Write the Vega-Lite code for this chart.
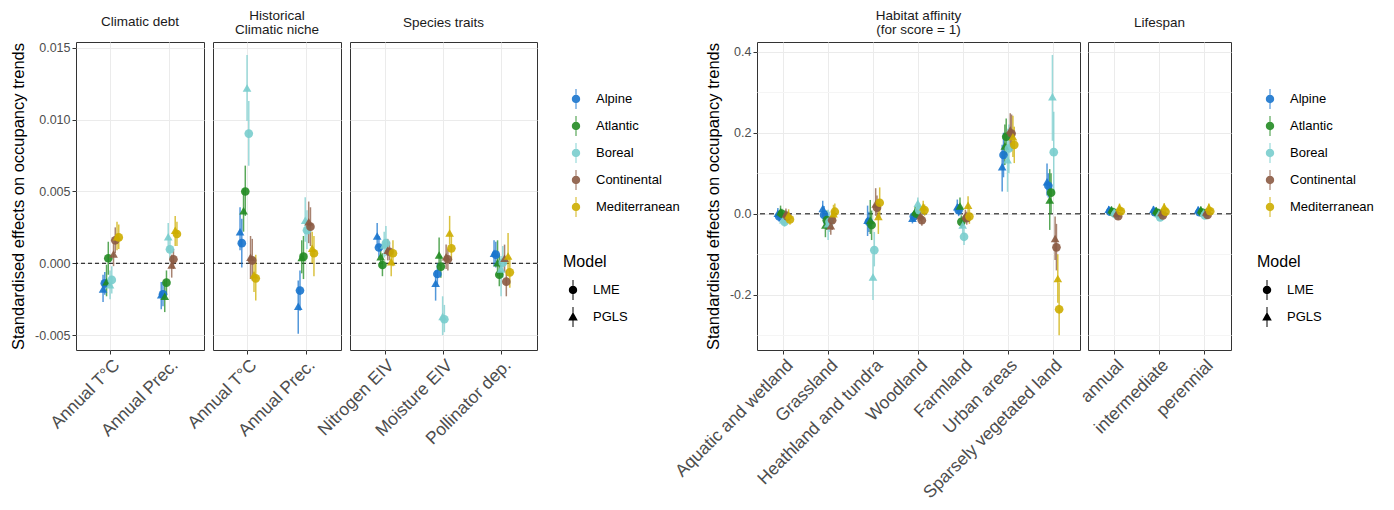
{
"$schema": "https://vega.github.io/schema/vega-lite/v6.json",
"background": "white",
"padding": {"left": 10, "top": 8, "right": 5, "bottom": 5},
"config": {
  "font": "Liberation Sans",
  "view": {"stroke": "#333333", "strokeWidth": 1},
  "title": {"fontSize": 13.5, "fontWeight": "normal", "color": "#1A1A1A", "anchor": "middle", "lineHeight": 14},
  "axis": {"domain": false}
},
"datasets": {"d": [
{"p":"cd","v":"Annual T°C","r":"Alpine","m":"LME","e":-0.0014,"lo":-0.0022,"hi":-0.0006},
{"p":"cd","v":"Annual T°C","r":"Alpine","m":"PGLS","e":-0.0018,"lo":-0.0027,"hi":-0.0008},
{"p":"cd","v":"Annual T°C","r":"Atlantic","m":"LME","e":0.00035,"lo":-0.0008,"hi":0.0015},
{"p":"cd","v":"Annual T°C","r":"Atlantic","m":"PGLS","e":-0.00128,"lo":-0.0023,"hi":-0.0001},
{"p":"cd","v":"Annual T°C","r":"Boreal","m":"LME","e":-0.00116,"lo":-0.0021,"hi":-0.0002},
{"p":"cd","v":"Annual T°C","r":"Boreal","m":"PGLS","e":-0.0015,"lo":-0.0025,"hi":-0.0005},
{"p":"cd","v":"Annual T°C","r":"Continental","m":"LME","e":0.0016,"lo":0.0007,"hi":0.0025},
{"p":"cd","v":"Annual T°C","r":"Continental","m":"PGLS","e":0.00065,"lo":-0.0002,"hi":0.0014},
{"p":"cd","v":"Annual T°C","r":"Mediterranean","m":"LME","e":0.0018,"lo":0.001,"hi":0.0027},
{"p":"cd","v":"Annual T°C","r":"Mediterranean","m":"PGLS","e":0.00185,"lo":0.0009,"hi":0.0029},
{"p":"cd","v":"Annual Prec.","r":"Alpine","m":"LME","e":-0.00216,"lo":-0.003,"hi":-0.0013},
{"p":"cd","v":"Annual Prec.","r":"Alpine","m":"PGLS","e":-0.0022,"lo":-0.0032,"hi":-0.0013},
{"p":"cd","v":"Annual Prec.","r":"Atlantic","m":"LME","e":-0.00135,"lo":-0.0022,"hi":-0.0005},
{"p":"cd","v":"Annual Prec.","r":"Atlantic","m":"PGLS","e":-0.0023,"lo":-0.0034,"hi":-0.0012},
{"p":"cd","v":"Annual Prec.","r":"Boreal","m":"LME","e":0.00097,"lo":0.0002,"hi":0.0017},
{"p":"cd","v":"Annual Prec.","r":"Boreal","m":"PGLS","e":0.00185,"lo":0.0008,"hi":0.0028},
{"p":"cd","v":"Annual Prec.","r":"Continental","m":"LME","e":0.00028,"lo":-0.0004,"hi":0.001},
{"p":"cd","v":"Annual Prec.","r":"Continental","m":"PGLS","e":-0.00012,"lo":-0.001,"hi":0.0006},
{"p":"cd","v":"Annual Prec.","r":"Mediterranean","m":"LME","e":0.00204,"lo":0.0012,"hi":0.0029},
{"p":"cd","v":"Annual Prec.","r":"Mediterranean","m":"PGLS","e":0.0023,"lo":0.0012,"hi":0.0033},
{"p":"hcn","v":"Annual T°C","r":"Alpine","m":"LME","e":0.0014,"lo":-0.0003,"hi":0.0031},
{"p":"hcn","v":"Annual T°C","r":"Alpine","m":"PGLS","e":0.0022,"lo":0.0009,"hi":0.0039},
{"p":"hcn","v":"Annual T°C","r":"Atlantic","m":"LME","e":0.005,"lo":0.0033,"hi":0.0068},
{"p":"hcn","v":"Annual T°C","r":"Atlantic","m":"PGLS","e":0.00366,"lo":0.0022,"hi":0.0052},
{"p":"hcn","v":"Annual T°C","r":"Boreal","m":"LME","e":0.00903,"lo":0.0068,"hi":0.0113},
{"p":"hcn","v":"Annual T°C","r":"Boreal","m":"PGLS","e":0.0122,"lo":0.0099,"hi":0.0145},
{"p":"hcn","v":"Annual T°C","r":"Continental","m":"LME","e":0.0002,"lo":-0.0012,"hi":0.0017},
{"p":"hcn","v":"Annual T°C","r":"Continental","m":"PGLS","e":0.00042,"lo":-0.0011,"hi":0.0019},
{"p":"hcn","v":"Annual T°C","r":"Mediterranean","m":"LME","e":-0.00105,"lo":-0.0026,"hi":0.0006},
{"p":"hcn","v":"Annual T°C","r":"Mediterranean","m":"PGLS","e":-0.0008,"lo":-0.002,"hi":0.0004},
{"p":"hcn","v":"Annual Prec.","r":"Alpine","m":"LME","e":-0.0019,"lo":-0.0033,"hi":-0.0005},
{"p":"hcn","v":"Annual Prec.","r":"Alpine","m":"PGLS","e":-0.003,"lo":-0.0049,"hi":-0.0012},
{"p":"hcn","v":"Annual Prec.","r":"Atlantic","m":"LME","e":0.00046,"lo":-0.0011,"hi":0.0019},
{"p":"hcn","v":"Annual Prec.","r":"Atlantic","m":"PGLS","e":0.0004,"lo":-0.0007,"hi":0.0016},
{"p":"hcn","v":"Annual Prec.","r":"Boreal","m":"LME","e":0.0023,"lo":0.001,"hi":0.0037},
{"p":"hcn","v":"Annual Prec.","r":"Boreal","m":"PGLS","e":0.003,"lo":0.0015,"hi":0.0046},
{"p":"hcn","v":"Annual Prec.","r":"Continental","m":"LME","e":0.00255,"lo":0.0012,"hi":0.0039},
{"p":"hcn","v":"Annual Prec.","r":"Continental","m":"PGLS","e":0.0029,"lo":0.0014,"hi":0.0043},
{"p":"hcn","v":"Annual Prec.","r":"Mediterranean","m":"LME","e":0.0007,"lo":-0.0009,"hi":0.0019},
{"p":"hcn","v":"Annual Prec.","r":"Mediterranean","m":"PGLS","e":0.00104,"lo":0.0,"hi":0.0022},
{"p":"st","v":"Nitrogen EIV","r":"Alpine","m":"LME","e":0.0011,"lo":0.0004,"hi":0.0019},
{"p":"st","v":"Nitrogen EIV","r":"Alpine","m":"PGLS","e":0.0019,"lo":0.0011,"hi":0.0028},
{"p":"st","v":"Nitrogen EIV","r":"Atlantic","m":"LME","e":-0.00012,"lo":-0.0009,"hi":0.0007},
{"p":"st","v":"Nitrogen EIV","r":"Atlantic","m":"PGLS","e":0.00046,"lo":-0.0003,"hi":0.0012},
{"p":"st","v":"Nitrogen EIV","r":"Boreal","m":"LME","e":0.0014,"lo":0.0005,"hi":0.0026},
{"p":"st","v":"Nitrogen EIV","r":"Boreal","m":"PGLS","e":0.00127,"lo":0.0004,"hi":0.0022},
{"p":"st","v":"Nitrogen EIV","r":"Continental","m":"LME","e":0.0008,"lo":0.0002,"hi":0.0015},
{"p":"st","v":"Nitrogen EIV","r":"Continental","m":"PGLS","e":0.0009,"lo":0.0002,"hi":0.0017},
{"p":"st","v":"Nitrogen EIV","r":"Mediterranean","m":"LME","e":0.0007,"lo":-0.0002,"hi":0.0016},
{"p":"st","v":"Nitrogen EIV","r":"Mediterranean","m":"PGLS","e":0.0001,"lo":-0.0009,"hi":0.001},
{"p":"st","v":"Moisture EIV","r":"Alpine","m":"LME","e":-0.00075,"lo":-0.0015,"hi":0.0},
{"p":"st","v":"Moisture EIV","r":"Alpine","m":"PGLS","e":-0.0014,"lo":-0.0026,"hi":-0.0005},
{"p":"st","v":"Moisture EIV","r":"Atlantic","m":"LME","e":-0.00023,"lo":-0.001,"hi":0.0005},
{"p":"st","v":"Moisture EIV","r":"Atlantic","m":"PGLS","e":0.00058,"lo":-0.0002,"hi":0.0018},
{"p":"st","v":"Moisture EIV","r":"Boreal","m":"LME","e":-0.0039,"lo":-0.0048,"hi":-0.0029},
{"p":"st","v":"Moisture EIV","r":"Boreal","m":"PGLS","e":-0.0037,"lo":-0.005,"hi":-0.0023},
{"p":"st","v":"Moisture EIV","r":"Continental","m":"LME","e":0.00028,"lo":-0.0005,"hi":0.001},
{"p":"st","v":"Moisture EIV","r":"Continental","m":"PGLS","e":0.00046,"lo":-0.0004,"hi":0.0013},
{"p":"st","v":"Moisture EIV","r":"Mediterranean","m":"LME","e":0.00104,"lo":0.0002,"hi":0.0019},
{"p":"st","v":"Moisture EIV","r":"Mediterranean","m":"PGLS","e":0.0021,"lo":0.0013,"hi":0.0033},
{"p":"st","v":"Pollinator dep.","r":"Alpine","m":"LME","e":0.0006,"lo":-0.0003,"hi":0.0015},
{"p":"st","v":"Pollinator dep.","r":"Alpine","m":"PGLS","e":0.0007,"lo":-0.0002,"hi":0.0016},
{"p":"st","v":"Pollinator dep.","r":"Atlantic","m":"LME","e":-0.0008,"lo":-0.0016,"hi":0.0006},
{"p":"st","v":"Pollinator dep.","r":"Atlantic","m":"PGLS","e":0.00004,"lo":-0.0009,"hi":0.0016},
{"p":"st","v":"Pollinator dep.","r":"Boreal","m":"LME","e":0.00004,"lo":-0.001,"hi":0.0012},
{"p":"st","v":"Pollinator dep.","r":"Boreal","m":"PGLS","e":-0.0004,"lo":-0.0023,"hi":0.0005},
{"p":"st","v":"Pollinator dep.","r":"Continental","m":"LME","e":-0.00128,"lo":-0.0023,"hi":-0.0005},
{"p":"st","v":"Pollinator dep.","r":"Continental","m":"PGLS","e":0.00035,"lo":-0.0006,"hi":0.0013},
{"p":"st","v":"Pollinator dep.","r":"Mediterranean","m":"LME","e":-0.00063,"lo":-0.0017,"hi":0.0004},
{"p":"st","v":"Pollinator dep.","r":"Mediterranean","m":"PGLS","e":0.0005,"lo":-0.0005,"hi":0.0021},
{"p":"ha","v":"Aquatic and wetland","r":"Alpine","m":"LME","e":-0.007,"lo":-0.02,"hi":0.006},
{"p":"ha","v":"Aquatic and wetland","r":"Alpine","m":"PGLS","e":0.001,"lo":-0.012,"hi":0.014},
{"p":"ha","v":"Aquatic and wetland","r":"Atlantic","m":"LME","e":0.0,"lo":-0.012,"hi":0.012},
{"p":"ha","v":"Aquatic and wetland","r":"Atlantic","m":"PGLS","e":0.005,"lo":-0.008,"hi":0.02},
{"p":"ha","v":"Aquatic and wetland","r":"Boreal","m":"LME","e":-0.02,"lo":-0.032,"hi":-0.008},
{"p":"ha","v":"Aquatic and wetland","r":"Boreal","m":"PGLS","e":-0.015,"lo":-0.028,"hi":-0.002},
{"p":"ha","v":"Aquatic and wetland","r":"Continental","m":"LME","e":-0.007,"lo":-0.02,"hi":0.006},
{"p":"ha","v":"Aquatic and wetland","r":"Continental","m":"PGLS","e":0.0,"lo":-0.013,"hi":0.013},
{"p":"ha","v":"Aquatic and wetland","r":"Mediterranean","m":"LME","e":-0.014,"lo":-0.027,"hi":-0.001},
{"p":"ha","v":"Aquatic and wetland","r":"Mediterranean","m":"PGLS","e":-0.003,"lo":-0.017,"hi":0.011},
{"p":"ha","v":"Grassland","r":"Alpine","m":"LME","e":-0.003,"lo":-0.025,"hi":0.019},
{"p":"ha","v":"Grassland","r":"Alpine","m":"PGLS","e":0.013,"lo":-0.008,"hi":0.032},
{"p":"ha","v":"Grassland","r":"Atlantic","m":"LME","e":-0.016,"lo":-0.04,"hi":0.008},
{"p":"ha","v":"Grassland","r":"Atlantic","m":"PGLS","e":-0.028,"lo":-0.058,"hi":0.0},
{"p":"ha","v":"Grassland","r":"Boreal","m":"LME","e":-0.02,"lo":-0.045,"hi":0.005},
{"p":"ha","v":"Grassland","r":"Boreal","m":"PGLS","e":-0.025,"lo":-0.065,"hi":0.01},
{"p":"ha","v":"Grassland","r":"Continental","m":"LME","e":-0.016,"lo":-0.04,"hi":0.008},
{"p":"ha","v":"Grassland","r":"Continental","m":"PGLS","e":-0.03,"lo":-0.052,"hi":-0.008},
{"p":"ha","v":"Grassland","r":"Mediterranean","m":"LME","e":0.005,"lo":-0.015,"hi":0.025},
{"p":"ha","v":"Grassland","r":"Mediterranean","m":"PGLS","e":0.0,"lo":-0.022,"hi":0.022},
{"p":"ha","v":"Heathland and tundra","r":"Alpine","m":"LME","e":-0.02,"lo":-0.045,"hi":0.005},
{"p":"ha","v":"Heathland and tundra","r":"Alpine","m":"PGLS","e":-0.016,"lo":-0.055,"hi":0.02},
{"p":"ha","v":"Heathland and tundra","r":"Atlantic","m":"LME","e":-0.028,"lo":-0.065,"hi":0.008},
{"p":"ha","v":"Heathland and tundra","r":"Atlantic","m":"PGLS","e":-0.016,"lo":-0.05,"hi":0.034},
{"p":"ha","v":"Heathland and tundra","r":"Boreal","m":"LME","e":-0.09,"lo":-0.13,"hi":-0.045},
{"p":"ha","v":"Heathland and tundra","r":"Boreal","m":"PGLS","e":-0.156,"lo":-0.213,"hi":-0.1},
{"p":"ha","v":"Heathland and tundra","r":"Continental","m":"LME","e":0.015,"lo":-0.01,"hi":0.045},
{"p":"ha","v":"Heathland and tundra","r":"Continental","m":"PGLS","e":0.024,"lo":-0.005,"hi":0.063},
{"p":"ha","v":"Heathland and tundra","r":"Mediterranean","m":"LME","e":0.027,"lo":-0.01,"hi":0.065},
{"p":"ha","v":"Heathland and tundra","r":"Mediterranean","m":"PGLS","e":-0.007,"lo":-0.05,"hi":0.035},
{"p":"ha","v":"Woodland","r":"Alpine","m":"LME","e":-0.007,"lo":-0.02,"hi":0.006},
{"p":"ha","v":"Woodland","r":"Alpine","m":"PGLS","e":-0.011,"lo":-0.024,"hi":0.002},
{"p":"ha","v":"Woodland","r":"Atlantic","m":"LME","e":0.0,"lo":-0.013,"hi":0.013},
{"p":"ha","v":"Woodland","r":"Atlantic","m":"PGLS","e":0.005,"lo":-0.008,"hi":0.018},
{"p":"ha","v":"Woodland","r":"Boreal","m":"LME","e":0.009,"lo":-0.005,"hi":0.023},
{"p":"ha","v":"Woodland","r":"Boreal","m":"PGLS","e":0.026,"lo":0.01,"hi":0.04},
{"p":"ha","v":"Woodland","r":"Continental","m":"LME","e":-0.016,"lo":-0.03,"hi":-0.003},
{"p":"ha","v":"Woodland","r":"Continental","m":"PGLS","e":-0.005,"lo":-0.018,"hi":0.008},
{"p":"ha","v":"Woodland","r":"Mediterranean","m":"LME","e":0.009,"lo":-0.005,"hi":0.023},
{"p":"ha","v":"Woodland","r":"Mediterranean","m":"PGLS","e":0.017,"lo":0.002,"hi":0.032},
{"p":"ha","v":"Farmland","r":"Alpine","m":"LME","e":0.009,"lo":-0.006,"hi":0.024},
{"p":"ha","v":"Farmland","r":"Alpine","m":"PGLS","e":0.017,"lo":0.0,"hi":0.035},
{"p":"ha","v":"Farmland","r":"Atlantic","m":"LME","e":-0.02,"lo":-0.035,"hi":-0.004},
{"p":"ha","v":"Farmland","r":"Atlantic","m":"PGLS","e":0.019,"lo":0.0,"hi":0.04},
{"p":"ha","v":"Farmland","r":"Boreal","m":"LME","e":-0.057,"lo":-0.077,"hi":-0.037},
{"p":"ha","v":"Farmland","r":"Boreal","m":"PGLS","e":-0.028,"lo":-0.05,"hi":-0.006},
{"p":"ha","v":"Farmland","r":"Continental","m":"LME","e":-0.011,"lo":-0.027,"hi":0.005},
{"p":"ha","v":"Farmland","r":"Continental","m":"PGLS","e":-0.005,"lo":-0.02,"hi":0.01},
{"p":"ha","v":"Farmland","r":"Mediterranean","m":"LME","e":-0.007,"lo":-0.025,"hi":0.012},
{"p":"ha","v":"Farmland","r":"Mediterranean","m":"PGLS","e":0.021,"lo":0.0,"hi":0.043},
{"p":"ha","v":"Urban areas","r":"Alpine","m":"LME","e":0.145,"lo":0.09,"hi":0.2},
{"p":"ha","v":"Urban areas","r":"Alpine","m":"PGLS","e":0.116,"lo":0.055,"hi":0.17},
{"p":"ha","v":"Urban areas","r":"Atlantic","m":"LME","e":0.19,"lo":0.145,"hi":0.235},
{"p":"ha","v":"Urban areas","r":"Atlantic","m":"PGLS","e":0.167,"lo":0.12,"hi":0.22},
{"p":"ha","v":"Urban areas","r":"Boreal","m":"LME","e":0.161,"lo":0.1,"hi":0.22},
{"p":"ha","v":"Urban areas","r":"Boreal","m":"PGLS","e":0.133,"lo":0.054,"hi":0.21},
{"p":"ha","v":"Urban areas","r":"Continental","m":"LME","e":0.198,"lo":0.155,"hi":0.245},
{"p":"ha","v":"Urban areas","r":"Continental","m":"PGLS","e":0.207,"lo":0.165,"hi":0.248},
{"p":"ha","v":"Urban areas","r":"Mediterranean","m":"LME","e":0.17,"lo":0.125,"hi":0.215},
{"p":"ha","v":"Urban areas","r":"Mediterranean","m":"PGLS","e":0.19,"lo":0.14,"hi":0.242},
{"p":"ha","v":"Sparsely vegetated land","r":"Alpine","m":"LME","e":0.069,"lo":0.04,"hi":0.1},
{"p":"ha","v":"Sparsely vegetated land","r":"Alpine","m":"PGLS","e":0.079,"lo":0.045,"hi":0.124},
{"p":"ha","v":"Sparsely vegetated land","r":"Atlantic","m":"LME","e":0.052,"lo":0.0,"hi":0.1},
{"p":"ha","v":"Sparsely vegetated land","r":"Atlantic","m":"PGLS","e":0.034,"lo":-0.04,"hi":0.11},
{"p":"ha","v":"Sparsely vegetated land","r":"Boreal","m":"LME","e":0.152,"lo":0.05,"hi":0.252},
{"p":"ha","v":"Sparsely vegetated land","r":"Boreal","m":"PGLS","e":0.289,"lo":0.18,"hi":0.392},
{"p":"ha","v":"Sparsely vegetated land","r":"Continental","m":"LME","e":-0.083,"lo":-0.14,"hi":-0.025},
{"p":"ha","v":"Sparsely vegetated land","r":"Continental","m":"PGLS","e":-0.061,"lo":-0.114,"hi":-0.007},
{"p":"ha","v":"Sparsely vegetated land","r":"Mediterranean","m":"LME","e":-0.236,"lo":-0.3,"hi":-0.17},
{"p":"ha","v":"Sparsely vegetated land","r":"Mediterranean","m":"PGLS","e":-0.16,"lo":-0.22,"hi":-0.1},
{"p":"ls","v":"annual","r":"Alpine","m":"LME","e":0.005,"lo":-0.003,"hi":0.013},
{"p":"ls","v":"annual","r":"Alpine","m":"PGLS","e":0.011,"lo":0.003,"hi":0.019},
{"p":"ls","v":"annual","r":"Atlantic","m":"LME","e":0.004,"lo":-0.004,"hi":0.012},
{"p":"ls","v":"annual","r":"Atlantic","m":"PGLS","e":0.01,"lo":0.002,"hi":0.018},
{"p":"ls","v":"annual","r":"Boreal","m":"LME","e":-0.001,"lo":-0.009,"hi":0.007},
{"p":"ls","v":"annual","r":"Boreal","m":"PGLS","e":0.004,"lo":-0.004,"hi":0.012},
{"p":"ls","v":"annual","r":"Continental","m":"LME","e":-0.006,"lo":-0.014,"hi":0.002},
{"p":"ls","v":"annual","r":"Continental","m":"PGLS","e":0.002,"lo":-0.006,"hi":0.01},
{"p":"ls","v":"annual","r":"Mediterranean","m":"LME","e":0.006,"lo":-0.002,"hi":0.014},
{"p":"ls","v":"annual","r":"Mediterranean","m":"PGLS","e":0.016,"lo":0.007,"hi":0.025},
{"p":"ls","v":"intermediate","r":"Alpine","m":"LME","e":0.004,"lo":-0.004,"hi":0.012},
{"p":"ls","v":"intermediate","r":"Alpine","m":"PGLS","e":0.011,"lo":0.003,"hi":0.019},
{"p":"ls","v":"intermediate","r":"Atlantic","m":"LME","e":0.002,"lo":-0.006,"hi":0.01},
{"p":"ls","v":"intermediate","r":"Atlantic","m":"PGLS","e":0.008,"lo":0.0,"hi":0.016},
{"p":"ls","v":"intermediate","r":"Boreal","m":"LME","e":-0.009,"lo":-0.017,"hi":-0.001},
{"p":"ls","v":"intermediate","r":"Boreal","m":"PGLS","e":0.0,"lo":-0.008,"hi":0.008},
{"p":"ls","v":"intermediate","r":"Continental","m":"LME","e":-0.004,"lo":-0.012,"hi":0.004},
{"p":"ls","v":"intermediate","r":"Continental","m":"PGLS","e":0.003,"lo":-0.005,"hi":0.011},
{"p":"ls","v":"intermediate","r":"Mediterranean","m":"LME","e":0.005,"lo":-0.003,"hi":0.013},
{"p":"ls","v":"intermediate","r":"Mediterranean","m":"PGLS","e":0.017,"lo":0.008,"hi":0.026},
{"p":"ls","v":"perennial","r":"Alpine","m":"LME","e":0.004,"lo":-0.004,"hi":0.012},
{"p":"ls","v":"perennial","r":"Alpine","m":"PGLS","e":0.01,"lo":0.002,"hi":0.018},
{"p":"ls","v":"perennial","r":"Atlantic","m":"LME","e":0.003,"lo":-0.005,"hi":0.011},
{"p":"ls","v":"perennial","r":"Atlantic","m":"PGLS","e":0.01,"lo":0.002,"hi":0.018},
{"p":"ls","v":"perennial","r":"Boreal","m":"LME","e":-0.004,"lo":-0.012,"hi":0.004},
{"p":"ls","v":"perennial","r":"Boreal","m":"PGLS","e":0.002,"lo":-0.006,"hi":0.01},
{"p":"ls","v":"perennial","r":"Continental","m":"LME","e":-0.003,"lo":-0.011,"hi":0.005},
{"p":"ls","v":"perennial","r":"Continental","m":"PGLS","e":0.004,"lo":-0.004,"hi":0.012},
{"p":"ls","v":"perennial","r":"Mediterranean","m":"LME","e":0.006,"lo":-0.002,"hi":0.014},
{"p":"ls","v":"perennial","r":"Mediterranean","m":"PGLS","e":0.016,"lo":0.007,"hi":0.025}
]},
"spacing": -10,
"hconcat": [
{
 "spacing": 9,
 "bounds": "flush",
 "resolve": {"scale": {"color": "independent", "shape": "independent", "stroke": "independent", "xOffset": "independent"}, "legend": {"color": "independent", "shape": "independent", "stroke": "independent"}},
 "hconcat": [
  {
   "width": 128, "height": 308,
   "title": {"text": "Climatic debt", "offset": 13},
   "layer": [
    {"data": {"values": [{}]}, "mark": {"type": "rule", "color": "black", "strokeDash": [4, 3], "strokeWidth": 1}, "encoding": {"y": {"datum": 0, "type": "quantitative"}}},
    {"data": {"name": "d"}, "transform": [{"filter": "datum.p === 'cd'"}, {"calculate": "datum.r + '|' + datum.m", "as": "g"}],
     "mark": {"type": "rule", "strokeWidth": 1.5, "opacity": 0.75},
     "encoding": {
      "x": {"field": "v", "type": "nominal", "scale": {"domain": ["Annual T°C", "Annual Prec."], "paddingInner": 0.7, "paddingOuter": 0.45}},
      "xOffset": {"field": "g", "type": "nominal", "scale": {"domain": ["Alpine|PGLS","Alpine|LME","Atlantic|PGLS","Atlantic|LME","Boreal|PGLS","Boreal|LME","Continental|PGLS","Continental|LME","Mediterranean|PGLS","Mediterranean|LME"], "paddingInner": 0, "paddingOuter": 0}},
      "y": {"field": "lo", "type": "quantitative", "scale": {"domain": [-0.00604, 0.01541], "nice": false, "zero": false}},
      "y2": {"field": "hi"},
      "stroke": {"field": "r", "type": "nominal", "scale": {"range": ["#1874CD","#228B22","#79CDCD","#8B5A42","#CDAD00"]}, "legend": null}
     }},
    {"data": {"name": "d"}, "transform": [{"filter": "datum.p === 'cd'"}, {"calculate": "datum.r + '|' + datum.m", "as": "g"}],
     "mark": {"type": "point", "filled": true, "size": 75, "opacity": 0.9},
     "encoding": {
      "x": {"field": "v", "type": "nominal", "scale": {"domain": ["Annual T°C", "Annual Prec."], "paddingInner": 0.7, "paddingOuter": 0.45},
            "axis": {"title": null, "labelAngle": -45, "labelAlign": "right", "labelBaseline": "top", "labelFontSize": 17.5, "labelColor": "#4D4D4D", "labelPadding": 2, "labelLimit": 300, "tickColor": "#333333", "tickSize": 4, "grid": true, "gridColor": "#EBEBEB", "domain": false, "bandPosition": 0.5}},
      "xOffset": {"field": "g", "type": "nominal", "scale": {"domain": ["Alpine|PGLS","Alpine|LME","Atlantic|PGLS","Atlantic|LME","Boreal|PGLS","Boreal|LME","Continental|PGLS","Continental|LME","Mediterranean|PGLS","Mediterranean|LME"], "paddingInner": 0, "paddingOuter": 0}},
      "y": {"field": "e", "type": "quantitative", "scale": {"domain": [-0.00604, 0.01541], "nice": false, "zero": false},
            "axis": {"title": "Standardised effects on occupancy trends", "titleFontSize": 16.5, "titleColor": "black", "titleFontWeight": "normal", "titlePadding": 8,
                     "values": [-0.005, -0.0025, 0, 0.0025, 0.005, 0.0075, 0.01, 0.0125, 0.015],
                     "labelExpr": "abs(datum.value*200 - round(datum.value*200)) < 0.01 ? replace(format(datum.value, '.3f'), '\u2212', '-') : ''",
                     "labelFontSize": 12.5, "labelColor": "#4D4D4D", "labelPadding": 2, "tickColor": "#333333", "tickSize": 4,
                     "tickOpacity": {"condition": {"test": "abs(datum.value*200 - round(datum.value*200)) < 0.01", "value": 1}, "value": 0},
                     "grid": true, "gridColor": {"condition": {"test": "abs(datum.value*200 - round(datum.value*200)) < 0.01", "value": "#EBEBEB"}, "value": "#F5F5F5"}, "domain": false}},
      "color": {"field": "r", "type": "nominal", "scale": {"domain": ["Alpine","Atlantic","Boreal","Continental","Mediterranean"], "range": ["#1874CD","#228B22","#79CDCD","#8B5A42","#CDAD00"]}, "legend": null},
      "shape": {"field": "m", "type": "nominal", "scale": {"domain": ["LME","PGLS"], "range": ["circle","triangle-up"]}, "legend": null}
     }}
   ]
  },
  {
   "width": 128, "height": 308,
   "title": {"text": ["Historical", "Climatic niche"], "offset": 6},
   "layer": [
    {"data": {"values": [{}]}, "mark": {"type": "rule", "color": "black", "strokeDash": [4, 3], "strokeWidth": 1}, "encoding": {"y": {"datum": 0, "type": "quantitative"}}},
    {"data": {"name": "d"}, "transform": [{"filter": "datum.p === 'hcn'"}, {"calculate": "datum.r + '|' + datum.m", "as": "g"}],
     "mark": {"type": "rule", "strokeWidth": 1.5, "opacity": 0.75},
     "encoding": {
      "x": {"field": "v", "type": "nominal", "scale": {"domain": ["Annual T°C", "Annual Prec."], "paddingInner": 0.7, "paddingOuter": 0.45}},
      "xOffset": {"field": "g", "type": "nominal", "scale": {"domain": ["Alpine|PGLS","Alpine|LME","Atlantic|PGLS","Atlantic|LME","Boreal|PGLS","Boreal|LME","Continental|PGLS","Continental|LME","Mediterranean|PGLS","Mediterranean|LME"], "paddingInner": 0, "paddingOuter": 0}},
      "y": {"field": "lo", "type": "quantitative", "scale": {"domain": [-0.00604, 0.01541], "nice": false, "zero": false}},
      "y2": {"field": "hi"},
      "stroke": {"field": "r", "type": "nominal", "scale": {"range": ["#1874CD","#228B22","#79CDCD","#8B5A42","#CDAD00"]}, "legend": null}
     }},
    {"data": {"name": "d"}, "transform": [{"filter": "datum.p === 'hcn'"}, {"calculate": "datum.r + '|' + datum.m", "as": "g"}],
     "mark": {"type": "point", "filled": true, "size": 75, "opacity": 0.9},
     "encoding": {
      "x": {"field": "v", "type": "nominal", "scale": {"domain": ["Annual T°C", "Annual Prec."], "paddingInner": 0.7, "paddingOuter": 0.45},
            "axis": {"title": null, "labelAngle": -45, "labelAlign": "right", "labelBaseline": "top", "labelFontSize": 17.5, "labelColor": "#4D4D4D", "labelPadding": 2, "labelLimit": 300, "tickColor": "#333333", "tickSize": 4, "grid": true, "gridColor": "#EBEBEB", "domain": false, "bandPosition": 0.5}},
      "xOffset": {"field": "g", "type": "nominal", "scale": {"domain": ["Alpine|PGLS","Alpine|LME","Atlantic|PGLS","Atlantic|LME","Boreal|PGLS","Boreal|LME","Continental|PGLS","Continental|LME","Mediterranean|PGLS","Mediterranean|LME"], "paddingInner": 0, "paddingOuter": 0}},
      "y": {"field": "e", "type": "quantitative", "scale": {"domain": [-0.00604, 0.01541], "nice": false, "zero": false},
            "axis": {"title": null, "labels": false, "ticks": false, "values": [-0.005, -0.0025, 0, 0.0025, 0.005, 0.0075, 0.01, 0.0125, 0.015],
                     "grid": true, "gridColor": {"condition": {"test": "abs(datum.value*200 - round(datum.value*200)) < 0.01", "value": "#EBEBEB"}, "value": "#F5F5F5"}, "domain": false}},
      "color": {"field": "r", "type": "nominal", "scale": {"domain": ["Alpine","Atlantic","Boreal","Continental","Mediterranean"], "range": ["#1874CD","#228B22","#79CDCD","#8B5A42","#CDAD00"]}, "legend": null},
      "shape": {"field": "m", "type": "nominal", "scale": {"domain": ["LME","PGLS"], "range": ["circle","triangle-up"]}, "legend": null}
     }}
   ]
  },
  {
   "width": 187, "height": 308,
   "title": {"text": "Species traits", "offset": 13},
   "resolve": {"scale": {"shape": "independent"}},
   "layer": [
    {"data": {"values": [{}]}, "mark": {"type": "rule", "color": "black", "strokeDash": [4, 3], "strokeWidth": 1}, "encoding": {"y": {"datum": 0, "type": "quantitative"}}},
    {"data": {"name": "d"}, "transform": [{"filter": "datum.p === 'st'"}, {"calculate": "datum.r + '|' + datum.m", "as": "g"}],
     "mark": {"type": "rule", "strokeWidth": 1.5, "opacity": 0.75},
     "encoding": {
      "x": {"field": "v", "type": "nominal", "scale": {"domain": ["Nitrogen EIV", "Moisture EIV", "Pollinator dep."], "paddingInner": 0.7, "paddingOuter": 0.45}},
      "xOffset": {"field": "g", "type": "nominal", "scale": {"domain": ["Alpine|PGLS","Alpine|LME","Atlantic|PGLS","Atlantic|LME","Boreal|PGLS","Boreal|LME","Continental|PGLS","Continental|LME","Mediterranean|PGLS","Mediterranean|LME"], "paddingInner": 0, "paddingOuter": 0}},
      "y": {"field": "lo", "type": "quantitative", "scale": {"domain": [-0.00604, 0.01541], "nice": false, "zero": false}},
      "y2": {"field": "hi"},
      "stroke": {"field": "r", "type": "nominal", "scale": {"range": ["#1874CD","#228B22","#79CDCD","#8B5A42","#CDAD00"]}, "legend": null}
     }},
    {"data": {"name": "d"}, "transform": [{"filter": "datum.p === 'st'"}, {"calculate": "datum.r + '|' + datum.m", "as": "g"}],
     "mark": {"type": "point", "filled": true, "size": 75, "opacity": 0.9},
     "encoding": {
      "x": {"field": "v", "type": "nominal", "scale": {"domain": ["Nitrogen EIV", "Moisture EIV", "Pollinator dep."], "paddingInner": 0.7, "paddingOuter": 0.45},
            "axis": {"title": null, "labelAngle": -45, "labelAlign": "right", "labelBaseline": "top", "labelFontSize": 17.5, "labelColor": "#4D4D4D", "labelPadding": 2, "labelLimit": 300, "tickColor": "#333333", "tickSize": 4, "grid": true, "gridColor": "#EBEBEB", "domain": false, "bandPosition": 0.5}},
      "xOffset": {"field": "g", "type": "nominal", "scale": {"domain": ["Alpine|PGLS","Alpine|LME","Atlantic|PGLS","Atlantic|LME","Boreal|PGLS","Boreal|LME","Continental|PGLS","Continental|LME","Mediterranean|PGLS","Mediterranean|LME"], "paddingInner": 0, "paddingOuter": 0}},
      "y": {"field": "e", "type": "quantitative", "scale": {"domain": [-0.00604, 0.01541], "nice": false, "zero": false},
            "axis": {"title": null, "labels": false, "ticks": false, "values": [-0.005, -0.0025, 0, 0.0025, 0.005, 0.0075, 0.01, 0.0125, 0.015],
                     "grid": true, "gridColor": {"condition": {"test": "abs(datum.value*200 - round(datum.value*200)) < 0.01", "value": "#EBEBEB"}, "value": "#F5F5F5"}, "domain": false}},
      "color": {"field": "r", "type": "nominal", "scale": {"domain": ["Alpine","Atlantic","Boreal","Continental","Mediterranean"], "range": ["#1874CD","#228B22","#79CDCD","#8B5A42","#CDAD00"]},
                "legend": {"title": null, "orient": "none", "legendX": 216, "legendY": 47, "symbolType": "M-0.05,-1H0.05V1H-0.05Z M0.42,0A0.42,0.42 0 1,1 -0.42,0A0.42,0.42 0 1,1 0.42,0Z", "symbolSize": 400, "symbolStrokeWidth": 0, "labelFontSize": 13, "labelColor": "black", "labelOffset": 10, "rowPadding": 7}},
      "shape": {"field": "m", "type": "nominal", "scale": {"domain": ["LME","PGLS"], "range": ["circle","triangle-up"]}, "legend": null}
     }},
    {"data": {"name": "d"}, "transform": [{"filter": "false"}],
     "mark": {"type": "point", "filled": true, "color": "black", "opacity": 1},
     "encoding": {
      "shape": {"field": "m", "type": "nominal", "scale": {"domain": ["LME","PGLS"], "range": ["M-0.05,-1H0.05V1H-0.05Z M0.42,0A0.42,0.42 0 1,1 -0.42,0A0.42,0.42 0 1,1 0.42,0Z", "M-0.05,-1H0.05V1H-0.05Z M0,-0.5L0.48,0.35L-0.48,0.35Z"]},
                "legend": {"title": "Model", "orient": "none", "legendX": 213, "legendY": 212, "titleFontSize": 16, "titleFontWeight": "normal", "titleColor": "black", "titlePadding": 10, "symbolSize": 400, "symbolStrokeWidth": 0, "symbolFillColor": "black", "labelFontSize": 13, "labelColor": "black", "labelOffset": 10, "rowPadding": 7}}
     }}
   ]
  }
 ]
},
{
 "spacing": 8,
 "bounds": "flush",
 "resolve": {"scale": {"color": "independent", "shape": "independent", "stroke": "independent", "xOffset": "independent"}, "legend": {"color": "independent", "shape": "independent", "stroke": "independent"}},
 "hconcat": [
  {
   "width": 323, "height": 308,
   "title": {"text": ["Habitat affinity", "(for score = 1)"], "offset": 6},
   "layer": [
    {"data": {"values": [{}]}, "mark": {"type": "rule", "color": "#555555", "strokeDash": [5, 4], "strokeWidth": 1.5}, "encoding": {"y": {"datum": 0, "type": "quantitative"}}},
    {"data": {"name": "d"}, "transform": [{"filter": "datum.p === 'ha'"}, {"calculate": "datum.r + '|' + datum.m", "as": "g"}],
     "mark": {"type": "rule", "strokeWidth": 1.5, "opacity": 0.75},
     "encoding": {
      "x": {"field": "v", "type": "nominal", "scale": {"domain": ["Aquatic and wetland","Grassland","Heathland and tundra","Woodland","Farmland","Urban areas","Sparsely vegetated land"], "paddingInner": 0.7, "paddingOuter": 0.45}},
      "xOffset": {"field": "g", "type": "nominal", "scale": {"domain": ["Alpine|PGLS","Alpine|LME","Atlantic|PGLS","Atlantic|LME","Boreal|PGLS","Boreal|LME","Continental|PGLS","Continental|LME","Mediterranean|PGLS","Mediterranean|LME"], "paddingInner": 0, "paddingOuter": 0}},
      "y": {"field": "lo", "type": "quantitative", "scale": {"domain": [-0.3365, 0.424], "nice": false, "zero": false}},
      "y2": {"field": "hi"},
      "stroke": {"field": "r", "type": "nominal", "scale": {"range": ["#1874CD","#228B22","#79CDCD","#8B5A42","#CDAD00"]}, "legend": null}
     }},
    {"data": {"name": "d"}, "transform": [{"filter": "datum.p === 'ha'"}, {"calculate": "datum.r + '|' + datum.m", "as": "g"}],
     "mark": {"type": "point", "filled": true, "size": 75, "opacity": 0.9},
     "encoding": {
      "x": {"field": "v", "type": "nominal", "scale": {"domain": ["Aquatic and wetland","Grassland","Heathland and tundra","Woodland","Farmland","Urban areas","Sparsely vegetated land"], "paddingInner": 0.7, "paddingOuter": 0.45},
            "axis": {"title": null, "labelAngle": -45, "labelAlign": "right", "labelBaseline": "top", "labelFontSize": 17.5, "labelColor": "#4D4D4D", "labelPadding": 2, "labelLimit": 300, "tickColor": "#333333", "tickSize": 4, "grid": true, "gridColor": "#EBEBEB", "domain": false, "bandPosition": 0.5}},
      "xOffset": {"field": "g", "type": "nominal", "scale": {"domain": ["Alpine|PGLS","Alpine|LME","Atlantic|PGLS","Atlantic|LME","Boreal|PGLS","Boreal|LME","Continental|PGLS","Continental|LME","Mediterranean|PGLS","Mediterranean|LME"], "paddingInner": 0, "paddingOuter": 0}},
      "y": {"field": "e", "type": "quantitative", "scale": {"domain": [-0.3365, 0.424], "nice": false, "zero": false},
            "axis": {"title": "Standardised effects on occupancy trends", "titleFontSize": 16.5, "titleColor": "black", "titleFontWeight": "normal", "titlePadding": 8,
                     "values": [-0.3, -0.2, -0.1, 0, 0.1, 0.2, 0.3, 0.4],
                     "labelExpr": "abs(datum.value*5 - round(datum.value*5)) < 0.01 ? replace(format(datum.value, '.1f'), '\u2212', '-') : ''",
                     "labelFontSize": 12.5, "labelColor": "#4D4D4D", "labelPadding": 2, "tickColor": "#333333", "tickSize": 4,
                     "tickOpacity": {"condition": {"test": "abs(datum.value*5 - round(datum.value*5)) < 0.01", "value": 1}, "value": 0},
                     "grid": true, "gridColor": {"condition": {"test": "abs(datum.value*5 - round(datum.value*5)) < 0.01", "value": "#EBEBEB"}, "value": "#F5F5F5"}, "domain": false}},
      "color": {"field": "r", "type": "nominal", "scale": {"domain": ["Alpine","Atlantic","Boreal","Continental","Mediterranean"], "range": ["#1874CD","#228B22","#79CDCD","#8B5A42","#CDAD00"]}, "legend": null},
      "shape": {"field": "m", "type": "nominal", "scale": {"domain": ["LME","PGLS"], "range": ["circle","triangle-up"]}, "legend": null}
     }}
   ]
  },
  {
   "width": 143, "height": 308,
   "title": {"text": "Lifespan", "offset": 13},
   "resolve": {"scale": {"shape": "independent"}},
   "layer": [
    {"data": {"values": [{}]}, "mark": {"type": "rule", "color": "#555555", "strokeDash": [5, 4], "strokeWidth": 1.5}, "encoding": {"y": {"datum": 0, "type": "quantitative"}}},
    {"data": {"name": "d"}, "transform": [{"filter": "datum.p === 'ls'"}, {"calculate": "datum.r + '|' + datum.m", "as": "g"}],
     "mark": {"type": "rule", "strokeWidth": 1.5, "opacity": 0.75},
     "encoding": {
      "x": {"field": "v", "type": "nominal", "scale": {"domain": ["annual","intermediate","perennial"], "paddingInner": 0.7, "paddingOuter": 0.45}},
      "xOffset": {"field": "g", "type": "nominal", "scale": {"domain": ["Alpine|PGLS","Alpine|LME","Atlantic|PGLS","Atlantic|LME","Boreal|PGLS","Boreal|LME","Continental|PGLS","Continental|LME","Mediterranean|PGLS","Mediterranean|LME"], "paddingInner": 0, "paddingOuter": 0}},
      "y": {"field": "lo", "type": "quantitative", "scale": {"domain": [-0.3365, 0.424], "nice": false, "zero": false}},
      "y2": {"field": "hi"},
      "stroke": {"field": "r", "type": "nominal", "scale": {"range": ["#1874CD","#228B22","#79CDCD","#8B5A42","#CDAD00"]}, "legend": null}
     }},
    {"data": {"name": "d"}, "transform": [{"filter": "datum.p === 'ls'"}, {"calculate": "datum.r + '|' + datum.m", "as": "g"}],
     "mark": {"type": "point", "filled": true, "size": 75, "opacity": 0.9},
     "encoding": {
      "x": {"field": "v", "type": "nominal", "scale": {"domain": ["annual","intermediate","perennial"], "paddingInner": 0.7, "paddingOuter": 0.45},
            "axis": {"title": null, "labelAngle": -45, "labelAlign": "right", "labelBaseline": "top", "labelFontSize": 17.5, "labelColor": "#4D4D4D", "labelPadding": 2, "labelLimit": 300, "tickColor": "#333333", "tickSize": 4, "grid": true, "gridColor": "#EBEBEB", "domain": false, "bandPosition": 0.5}},
      "xOffset": {"field": "g", "type": "nominal", "scale": {"domain": ["Alpine|PGLS","Alpine|LME","Atlantic|PGLS","Atlantic|LME","Boreal|PGLS","Boreal|LME","Continental|PGLS","Continental|LME","Mediterranean|PGLS","Mediterranean|LME"], "paddingInner": 0, "paddingOuter": 0}},
      "y": {"field": "e", "type": "quantitative", "scale": {"domain": [-0.3365, 0.424], "nice": false, "zero": false},
            "axis": {"title": null, "labels": false, "ticks": false, "values": [-0.3, -0.2, -0.1, 0, 0.1, 0.2, 0.3, 0.4],
                     "grid": true, "gridColor": {"condition": {"test": "abs(datum.value*5 - round(datum.value*5)) < 0.01", "value": "#EBEBEB"}, "value": "#F5F5F5"}, "domain": false}},
      "color": {"field": "r", "type": "nominal", "scale": {"domain": ["Alpine","Atlantic","Boreal","Continental","Mediterranean"], "range": ["#1874CD","#228B22","#79CDCD","#8B5A42","#CDAD00"]},
                "legend": {"title": null, "orient": "none", "legendX": 172, "legendY": 47, "symbolType": "M-0.05,-1H0.05V1H-0.05Z M0.42,0A0.42,0.42 0 1,1 -0.42,0A0.42,0.42 0 1,1 0.42,0Z", "symbolSize": 400, "symbolStrokeWidth": 0, "labelFontSize": 13, "labelColor": "black", "labelOffset": 10, "rowPadding": 7}},
      "shape": {"field": "m", "type": "nominal", "scale": {"domain": ["LME","PGLS"], "range": ["circle","triangle-up"]}, "legend": null}
     }},
    {"data": {"name": "d"}, "transform": [{"filter": "false"}],
     "mark": {"type": "point", "filled": true, "color": "black", "opacity": 1},
     "encoding": {
      "shape": {"field": "m", "type": "nominal", "scale": {"domain": ["LME","PGLS"], "range": ["M-0.05,-1H0.05V1H-0.05Z M0.42,0A0.42,0.42 0 1,1 -0.42,0A0.42,0.42 0 1,1 0.42,0Z", "M-0.05,-1H0.05V1H-0.05Z M0,-0.5L0.48,0.35L-0.48,0.35Z"]},
                "legend": {"title": "Model", "orient": "none", "legendX": 169, "legendY": 212, "titleFontSize": 16, "titleFontWeight": "normal", "titleColor": "black", "titlePadding": 10, "symbolSize": 400, "symbolStrokeWidth": 0, "symbolFillColor": "black", "labelFontSize": 13, "labelColor": "black", "labelOffset": 10, "rowPadding": 7}}
     }}
   ]
  }
 ]
}
]
}
